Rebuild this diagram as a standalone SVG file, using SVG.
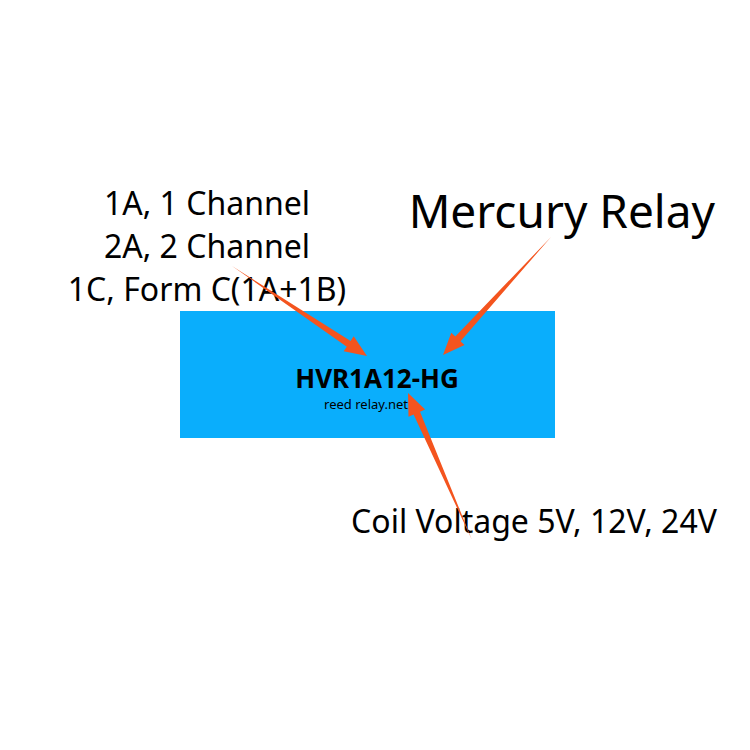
<svg xmlns="http://www.w3.org/2000/svg" width="750" height="750" viewBox="0 0 750 750">
<style>
text{font-family:"Noto Sans","Open Sans","DejaVu Sans",sans-serif;fill:#000}
.lbl{font-size:32px;text-anchor:middle}
.arr{fill:#f4541e}
</style>
<rect width="750" height="750" fill="#fff"/>
<g id="relay">
<rect x="180" y="311" width="375" height="127" fill="#0aaefc"/>
<text x="377" y="388" font-size="26" font-weight="bold" text-anchor="middle">HVR1A12-HG</text>
<text x="366" y="409" font-size="13" text-anchor="middle">reed relay.net</text>
</g>
<g id="contacts">
<text class="lbl" x="207" y="215">1A, 1 Channel</text>
<text class="lbl" x="207" y="258">2A, 2 Channel</text>
<text class="lbl" x="207" y="301">1C, Form C(1A+1B)</text>
</g>
<g id="type"><text x="715" y="228" font-size="46" text-anchor="end">Mercury Relay</text></g>
<g id="coil"><text x="534" y="533" font-size="32" text-anchor="middle">Coil Voltage 5V, 12V, 24V</text></g>
<g id="connectors" class="arr">
<polygon points="232,266 346.8,346.7 343.7,351.3 367,356 353.7,336.3 350.6,341"/>
<polygon points="551,237 460.5,341.2 464.5,344.9 443,355 451.3,332.7 455.3,336.4"/>
<polygon points="472,540 420,411.8 425.1,409.6 408,393 408.5,416.8 413.6,414.6"/>
</g>
</svg>
